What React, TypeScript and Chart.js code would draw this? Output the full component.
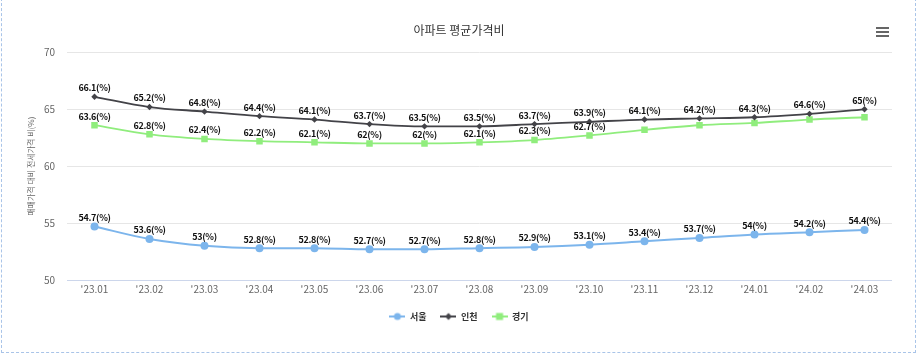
import React, { useEffect, useRef } from 'react';
import { Chart, registerables } from 'chart.js';

Chart.register(...registerables);

const categories = ["'23.01", "'23.02", "'23.03", "'23.04", "'23.05", "'23.06", "'23.07", "'23.08", "'23.09", "'23.10", "'23.11", "'23.12", "'24.01", "'24.02", "'24.03"];
const seoul = [54.7, 53.6, 53, 52.8, 52.8, 52.7, 52.7, 52.8, 52.9, 53.1, 53.4, 53.7, 54, 54.2, 54.4];
const incheon = [66.1, 65.2, 64.8, 64.4, 64.1, 63.7, 63.5, 63.5, 63.7, 63.9, 64.1, 64.2, 64.3, 64.6, 65];
const gyeonggi = [63.6, 62.8, 62.4, 62.2, 62.1, 62, 62, 62.1, 62.3, 62.7, 63.2, 63.6, 63.8, 64.1, 64.3];
const seriesNames = ['서울', '인천', '경기'];
const yTicks = [50, 55, 60, 65, 70];
const titleText = '아파트 평균가격비';
const yTitleText = '매매가격 대비 전세가격 비(%)';

const FONT = '"Noto Sans CJK KR", "Noto Sans", sans-serif';
const COLORS = ['#7cb5ec', '#434348', '#90ed7d'];

function makeIcon(color: string, kind: string): HTMLCanvasElement {
  const c = document.createElement('canvas');
  c.width = 16;
  c.height = 10;
  const g = c.getContext('2d')!;
  g.strokeStyle = color;
  g.lineWidth = 2;
  g.beginPath();
  g.moveTo(0, 5);
  g.lineTo(16, 5);
  g.stroke();
  g.fillStyle = color;
  g.beginPath();
  if (kind === 'circle') {
    g.arc(8, 5, 3.5, 0, Math.PI * 2);
    g.fill();
  } else if (kind === 'diamond') {
    g.moveTo(8, 1.5);
    g.lineTo(11.5, 5);
    g.lineTo(8, 8.5);
    g.lineTo(4.5, 5);
    g.closePath();
    g.fill();
  } else {
    g.fillRect(4.5, 1.5, 7, 7);
  }
  return c;
}

const extrasPlugin = {
  id: 'extras',
  afterDatasetsDraw(chart: any) {
    const ctx = chart.ctx;
    ctx.save();
    ctx.font = `bold 9px ${FONT}`;
    try {
      ctx.letterSpacing = '-0.3px';
    } catch (e) {
      /* ignore */
    }
    ctx.fillStyle = '#111';
    ctx.textAlign = 'center';
    ctx.textBaseline = 'middle';
    const boxes: { x1: number; x2: number; y1: number; y2: number }[] = [];
    chart.data.datasets.forEach((ds: any, di: number) => {
      const meta = chart.getDatasetMeta(di);
      meta.data.forEach((pt: any, i: number) => {
        const text = `${ds.data[i]}(%)`;
        const w = ctx.measureText(text).width;
        const cy = pt.y - 9;
        const b = { x1: pt.x - w / 2, x2: pt.x + w / 2, y1: cy - 6, y2: cy + 6 };
        const hit = boxes.some((o) => b.x1 < o.x2 && b.x2 > o.x1 && b.y1 < o.y2 && b.y2 > o.y1);
        if (hit) return;
        boxes.push(b);
        ctx.fillText(text, pt.x, cy);
      });
    });
    try {
      ctx.letterSpacing = '0px';
    } catch (e) {
      /* ignore */
    }
    // menu icon
    ctx.strokeStyle = '#666';
    ctx.lineWidth = 2;
    for (let k = 0; k < 3; k++) {
      const y = 28 + k * 4;
      ctx.beginPath();
      ctx.moveTo(876, y);
      ctx.lineTo(889, y);
      ctx.stroke();
    }
    ctx.restore();
  },
};

export default function App() {
  const ref = useRef<HTMLCanvasElement | null>(null);

  useEffect(() => {
    if (!ref.current) return;
    const icons = [makeIcon(COLORS[0], 'circle'), makeIcon(COLORS[1], 'diamond'), makeIcon(COLORS[2], 'square')];
    const chart = new Chart(ref.current, {
      type: 'line',
      data: {
        labels: categories,
        datasets: [
          {
            label: seriesNames[0],
            data: seoul,
            borderColor: COLORS[0],
            backgroundColor: COLORS[0],
            borderWidth: 2,
            pointStyle: 'circle',
            pointRadius: 4,
            pointBorderWidth: 0,
            cubicInterpolationMode: 'monotone',
          },
          {
            label: seriesNames[1],
            data: incheon,
            borderColor: COLORS[1],
            backgroundColor: COLORS[1],
            borderWidth: 1.8,
            pointStyle: 'rectRot',
            pointRadius: 3.2,
            pointBorderWidth: 0,
            cubicInterpolationMode: 'monotone',
          },
          {
            label: seriesNames[2],
            data: gyeonggi,
            borderColor: COLORS[2],
            backgroundColor: COLORS[2],
            borderWidth: 1.8,
            pointStyle: 'rect',
            pointRadius: 4.6,
            pointBorderWidth: 0,
            cubicInterpolationMode: 'monotone',
          },
        ],
      },
      options: {
        responsive: false,
        animation: false,
        devicePixelRatio: 1,
        layout: { padding: { left: 13, right: 13, top: 0, bottom: 24 } },
        font: { family: FONT },
        scales: {
          x: {
            type: 'category',
            offset: true,
            grid: { display: false, drawTicks: false },
            border: { display: false },
            ticks: { color: '#666', font: { size: 10, family: FONT }, padding: 3, maxRotation: 0, autoSkip: false },
            afterFit: (s: any) => {
              s.height = 18;
            },
          },
          y: {
            min: 50,
            max: 70,
            afterBuildTicks: (s: any) => {
              s.ticks = yTicks.map((v) => ({ value: v }));
            },
            ticks: { color: '#666', font: { size: 10, family: FONT }, padding: 12 },
            grid: {
              drawTicks: false,
              color: (c: any) => (c.tick && c.tick.value === 50 ? '#ccd6eb' : '#e6e6e6'),
            },
            border: { display: false },
            title: {
              display: true,
              text: yTitleText,
              color: '#666',
              font: { size: 8, family: FONT },
              padding: { top: 13, bottom: 0 },
            },
            afterFit: (s: any) => {
              s.width = 54;
            },
          },
          y2: {
            position: 'right',
            min: 0,
            max: 1,
            display: true,
            grid: { display: false, drawTicks: false },
            border: { display: false },
            ticks: { display: false },
            afterFit: (s: any) => {
              s.width = 13;
            },
          },
        },
        plugins: {
          title: {
            display: true,
            text: titleText,
            color: '#333',
            font: { size: 12, weight: 'normal', family: FONT },
            padding: { top: 23, bottom: 15 },
          },
          legend: {
            position: 'bottom',
            labels: {
              usePointStyle: true,
              pointStyleWidth: 16,
              color: '#333',
              font: { size: 9, weight: 'bold', family: FONT },
              padding: 14,
              generateLabels: (ch: any) => {
                const items = (Chart.defaults as any).plugins.legend.labels.generateLabels(ch);
                return items.map((it: any, i: number) => ({ ...it, pointStyle: icons[i] }));
              },
            },
          },
          tooltip: { enabled: false },
        },
      } as any,
      plugins: [extrasPlugin],
    });
    return () => chart.destroy();
  }, []);

  return (
    <div style={{ position: 'fixed', left: 0, top: 0, width: 918, height: 355, background: '#fff' }}>
      <canvas ref={ref} width={918} height={355} style={{ width: 918, height: 355, display: 'block' }} />
      <div
        style={{
          position: 'absolute',
          left: 1,
          top: -2,
          width: 913,
          height: 354,
          borderLeft: '1px dashed #a9c4e8',
          borderRight: '1px dashed #a9c4e8',
          borderBottom: '1px dashed #a9c4e8',
          pointerEvents: 'none',
        }}
      />
    </div>
  );
}
